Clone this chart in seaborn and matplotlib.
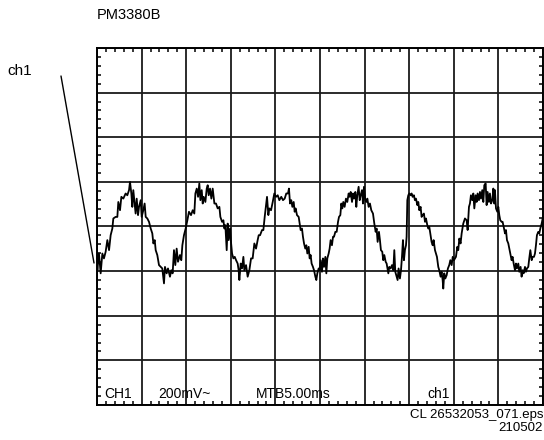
import matplotlib
matplotlib.use("Agg")
import matplotlib.pyplot as plt
from matplotlib.ticker import MultipleLocator, NullFormatter
from matplotlib.lines import Line2D
import pandas as pd
import seaborn as sns

# Channel 1 trace, time in ms and amplitude in mV, one array pair per stretch of the sweep
t_seg1 = [0.00, 0.04, 0.22, 0.41, 0.60, 0.78, 0.97, 1.16, 1.35, 1.53, 1.72, 1.83, 2.09, 2.28, 2.39, 2.58,
          2.73, 2.95, 3.21, 3.40, 3.59, 3.70, 3.85, 3.96, 4.07, 4.22, 4.33, 4.45, 4.60, 4.71, 4.90, 5.01,
          5.19, 5.34, 5.46, 5.64, 5.83, 6.02, 6.20, 6.32, 6.47, 6.58, 6.76, 6.95, 7.14, 7.32, 7.51, 7.62,
          7.81, 7.96, 8.18, 8.33, 8.48, 8.63, 8.78, 8.93, 9.08, 9.30, 9.45, 9.57, 9.75, 9.94, 10.13, 10.31]
v_seg1 = [-170, -196, -121, -210, -121, -143, -113, -61, -106, -39, -9, 36, 43, 43, 110, 73,
          133, 125, 148, 140, 163, 200, 148, 88, 163, 103, 58, 125, 51, 88, 118, 43,
          73, 103, 43, 36, 21, -9, -31, -76, -61, -106, -128, -173, -181, -188, -255, -181,
          -210, -188, -225, -196, -210, -106, -173, -99, -158, -128, -151, -84, -39, -9, 28, 66]

t_seg2 = [10.54, 10.73, 10.91, 11.03, 11.18, 11.33, 11.47, 11.59, 11.74, 11.85, 11.96, 12.15, 12.30, 12.41,
          12.52, 12.67, 12.82, 12.97, 13.16, 13.34, 13.53, 13.72, 13.83, 14.02, 14.17, 14.28, 14.39, 14.54,
          14.65, 14.76, 14.91, 15.02, 15.14, 15.29, 15.44, 15.59, 15.77, 15.88, 15.96, 16.11, 16.26, 16.41,
          16.52, 16.71, 16.89, 17.08, 17.27, 17.45, 17.64, 17.83, 18.01, 18.13, 18.28, 18.50, 18.65, 18.80,
          18.95, 19.06, 19.21, 19.32, 19.51, 19.70, 19.88, 20.07, 20.26, 20.44]
v_seg2 = [51, 73, 58, 148, 170, 133, 193, 118, 163, 103, 133, 110, 170, 185,
          140, 170, 125, 170, 103, 103, 81, 88, 43, 21, 28, -9, 6, -106,
          13, -61, -9, -69, -121, -143, -136, -151, -166, -196, -240, -166, -188, -136,
          -196, -173, -225, -196, -143, -143, -76, -99, -61, -39, -39, -16, -16, 43,
          96, 133, 51, 81, 73, 110, 148, 133, 140, 118]

t_seg3 = [20.66, 20.85, 21.04, 21.22, 21.41, 21.52, 21.64, 21.78, 21.90, 22.05, 22.16, 22.27, 22.42, 22.61,
          22.72, 22.83, 22.98, 23.09, 23.21, 23.35, 23.47, 23.58, 23.73, 23.84, 23.95, 24.06, 24.21, 24.33,
          24.48, 24.59, 24.70, 24.85, 24.96, 25.07, 25.22, 25.33, 25.45, 25.60, 25.71, 25.82, 25.97, 26.08,
          26.19, 26.34, 26.46, 26.57, 26.72, 26.87, 27.02, 27.13, 27.28, 27.39, 27.50, 27.61, 27.76, 27.91,
          28.06, 28.21, 28.32, 28.44, 28.59, 28.70, 28.81, 28.96, 29.07, 29.18, 29.33, 29.45, 29.56, 29.71,
          29.82, 29.93, 30.08, 30.19, 30.31, 30.45, 30.60, 30.75, 30.94]
v_seg3 = [133, 118, 125, 148, 148, 170, 103, 118, 88, 110, 66, 81, 51, 43,
          13, -16, -9, -46, -76, -99, -84, -121, -91, -143, -128, -166, -181, -196,
          -225, -240, -210, -188, -196, -151, -203, -143, -181, -136, -210, -143, -121, -99,
          -61, -84, -46, -46, -24, -24, 21, 43, 51, 103, 81, 110, 88, 125,
          110, 148, 133, 155, 110, 148, 125, 155, 88, 140, 178, 118, 140, 163,
          103, 178, 118, 110, 125, 88, 103, 73, 58]

t_seg4 = [31.09, 31.24, 31.35, 31.46, 31.61, 31.72, 31.83, 31.98, 32.09, 32.21, 32.36, 32.47, 32.66, 32.77,
          32.92, 33.07, 33.22, 33.33, 33.44, 33.59, 33.70, 33.81, 33.96, 34.08, 34.19, 34.30, 34.41, 34.52,
          34.64, 34.71, 34.79, 34.90, 35.01, 35.16, 35.27, 35.38, 35.53, 35.64, 35.76, 35.91, 36.02, 36.13,
          36.28, 36.39, 36.50, 36.65, 36.77, 36.88, 37.03, 37.14, 37.25, 37.40, 37.51, 37.63, 37.74, 37.89,
          38.00, 38.11, 38.26, 38.37, 38.52, 38.63, 38.75, 38.82, 38.93, 39.05, 39.20, 39.34, 39.49, 39.61,
          39.76, 39.88, 40.02, 40.13, 40.24, 40.39, 40.50, 40.62, 40.76, 40.88, 41.06, 41.25]
v_seg4 = [13, -24, -9, -69, -24, -61, -106, -113, -151, -128, -158, -166, -210, -181,
          -188, -173, -196, -106, -203, -225, -240, -188, -233, -196, -136, -61, -151, -106,
          -84, -46, 118, 140, 148, 140, 148, 133, 140, 118, 125, 96, 110, 73,
          88, 43, 51, 58, 21, 36, 6, -9, -1, -39, -69, -84, -61, -106,
          -121, -136, -181, -196, -225, -203, -240, -278, -210, -233, -218, -188, -173, -151,
          -173, -136, -151, -143, -136, -91, -106, -54, -76, -31, 13, 36]

t_seg5 = [41.44, 41.55, 41.70, 41.81, 41.92, 42.07, 42.19, 42.30, 42.45, 42.56, 42.67, 42.82, 42.93, 43.05,
          43.19, 43.31, 43.42, 43.57, 43.68, 43.79, 43.94, 44.05, 44.17, 44.32, 44.43, 44.54, 44.61, 44.73,
          44.88, 44.99, 45.10, 45.21, 45.36, 45.47, 45.59, 45.74, 45.85, 45.96, 46.11, 46.22, 46.37, 46.48,
          46.59, 46.71, 46.86, 46.97, 47.08, 47.23, 47.34, 47.49, 47.60, 47.72, 47.83, 47.98, 48.09, 48.20,
          48.35, 48.46, 48.58, 48.73, 48.84, 48.99, 49.10, 49.21, 49.32, 49.47, 49.58, 49.70, 49.85, 50.00]
v_seg5 = [28, -16, 88, 103, 140, 118, 148, 81, 140, 110, 148, 118, 155, 125,
          163, 110, 185, 193, 96, 155, 110, 148, 103, 118, 170, 103, 163, 81,
          66, 88, 51, 28, 21, 21, -1, -31, -16, -61, -76, -99, -128, -151,
          -136, -166, -196, -166, -188, -166, -203, -181, -225, -196, -210, -181, -203, -188,
          -181, -143, -106, -151, -136, -136, -121, -84, -39, -24, -31, -9, 13, 43]

# Screen settings
ms_per_div = 5.0
mv_per_div = 200.0
n_hdiv = 10
n_vdiv = 8

title_text = "PM3380B"
channel_tag = "ch1"
status_labels = ["CH1", "200mV~", "MTB5.00ms", "ch1"]
footer_lines = ["CL 26532053_071.eps", "210502"]

segments = [(t_seg1, v_seg1), (t_seg2, v_seg2), (t_seg3, v_seg3), (t_seg4, v_seg4), (t_seg5, v_seg5)]
trace = pd.concat([pd.DataFrame({"t": t, "v": v}) for t, v in segments], ignore_index=True)

sns.set_style("white")
plt.rcParams["font.family"] = ["Liberation Sans", "DejaVu Sans"]
plt.rcParams["text.color"] = "black"

W, H = 544, 440
fig = plt.figure(figsize=(W / 100, H / 100), dpi=100)
x0, x1, y0, y1 = 97, 543, 48, 405
ax = fig.add_axes([x0 / W, 1 - y1 / H, (x1 - x0) / W, (y1 - y0) / H])

sns.lineplot(data=trace, x="t", y="v", ax=ax, color="black", linewidth=1.3,
             estimator=None, sort=False, zorder=3)

ax.set_xlim(0, n_hdiv * ms_per_div)
ax.set_ylim(-n_vdiv / 2 * mv_per_div, n_vdiv / 2 * mv_per_div)
ax.xaxis.set_major_locator(MultipleLocator(ms_per_div))
ax.yaxis.set_major_locator(MultipleLocator(mv_per_div))
ax.xaxis.set_minor_locator(MultipleLocator(ms_per_div / 5))
ax.yaxis.set_minor_locator(MultipleLocator(mv_per_div / 5))
ax.xaxis.set_major_formatter(NullFormatter())
ax.yaxis.set_major_formatter(NullFormatter())
ax.set_xlabel("")
ax.set_ylabel("")
ax.tick_params(which="major", length=0)
ax.tick_params(which="minor", direction="in", length=3.2, width=1.1, color="black",
               top=True, bottom=True, left=True, right=True)
ax.grid(True, which="major", color="#1a1a1a", linewidth=1.3)
ax.set_axisbelow(True)
for sp in ax.spines.values():
    sp.set_color("black")
    sp.set_linewidth(1.4)

# Text around the screen
fig.text(97 / W, 1 - 15 / H, title_text, fontsize=10.5, ha="left", va="center")
fig.text(7 / W, 1 - 71 / H, channel_tag, fontsize=11, ha="left", va="center")
fig.add_artist(Line2D([61 / W, 94 / W], [1 - 76 / H, 1 - 263 / H],
                      transform=fig.transFigure, color="black", linewidth=1.0))

label_x = [104, 158, 256, 427]
for lbl, lx in zip(status_labels, label_x):
    fig.text(lx / W, 1 - 398 / H, lbl, fontsize=10, ha="left", va="baseline", zorder=5)

fig.text(543 / W, 1 - 415 / H, footer_lines[0], fontsize=9.5, ha="right", va="center")
fig.text(543 / W, 1 - 428 / H, footer_lines[1], fontsize=9.5, ha="right", va="center")

fig.savefig("out.png", dpi=100, facecolor="white")
